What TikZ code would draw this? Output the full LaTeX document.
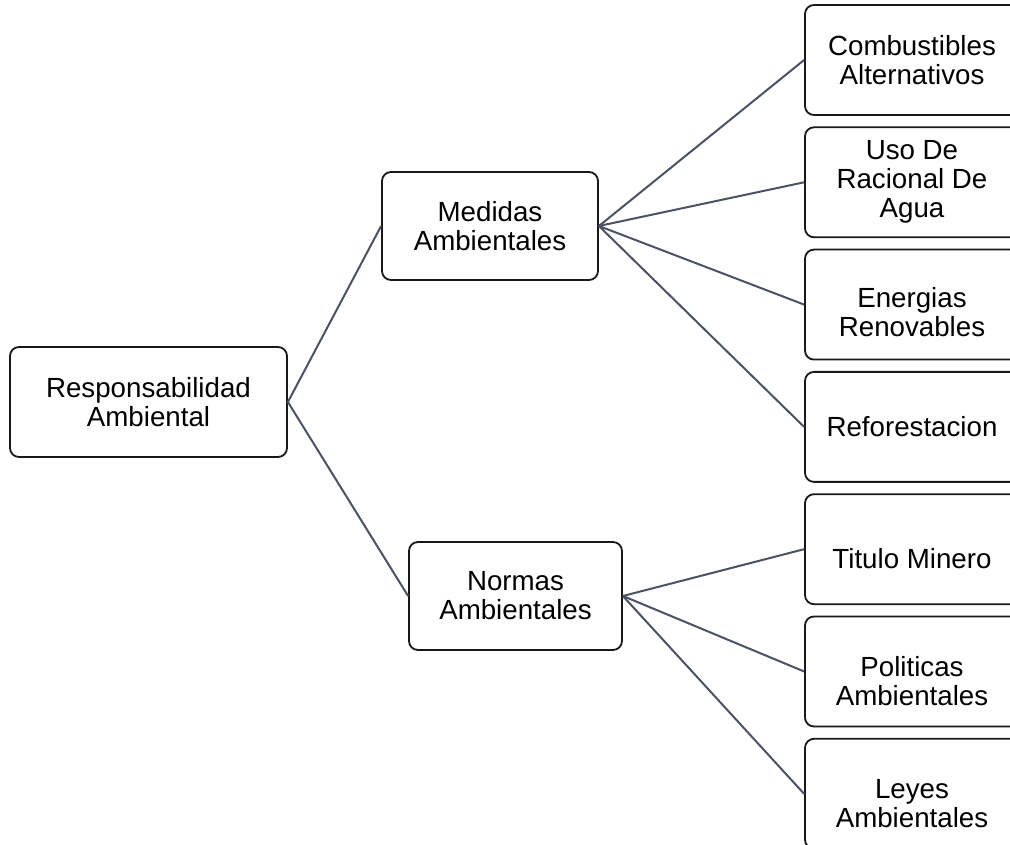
\documentclass[tikz,border=0pt]{standalone}
\usepackage{fontspec}
\setmainfont{Liberation Sans}
\usepackage{tikz}
\usetikzlibrary{shapes.geometric, arrows}
\definecolor{linegray}{HTML}{4A5263}
\tikzstyle{box} = [rectangle, rounded corners=9pt, minimum width=214pt, minimum height=110pt, text centered, align=center, draw=black!90, line width=1.8pt, font=\fontsize{27.7}{29}\selectfont]
\tikzstyle{line} = [draw=linegray, line width=2pt]
\newcommand{\lowtext}[2]{\raisebox{-#1}[\height][\depth]{\begin{tabular}{@{}c@{}}#2\end{tabular}}}

\begin{document}
\begin{tikzpicture}[x=1pt, y=1pt, node distance=122.3pt]

	\clip (0,0) rectangle (1010,844);
	\fill[white] (0,0) rectangle (1010,844);

	\node (resp) [box, minimum width=277pt] at (148.5,442) {Responsabilidad \\ Ambiental};
	\node (medidas) [box, minimum width=216pt, minimum height=108pt] at (490,618) {Medidas \\ Ambientales};
	\node (normas) [box, minimum width=213pt, minimum height=108pt] at (515.5,248) {Normas \\ Ambientales};

	\node (comb) [box] at (912,784) {Combustibles \\ Alternativos};
	\node (agua) [box, below of=comb] {Uso De \\ Racional De \\ Agua};
	\node (energia) [box, below of=agua] {\lowtext{12pt}{Energias \\ Renovables}};
	\node (refor) [box, below of=energia] {Reforestacion};
	\node (titulo) [box, below of=refor] {\lowtext{14pt}{Titulo Minero}};
	\node (politica) [box, below of=titulo] {\lowtext{14pt}{Politicas \\ Ambientales}};
	\node (leyes) [box, below of=politica] {\lowtext{13pt}{Leyes \\ Ambientales}};

	\draw [line] (resp.east) -- (medidas.west);
	\draw [line] (resp.east) -- (normas.west);
	\foreach \n in {comb, agua, energia, refor}
		\draw [line] (medidas.east) -- (\n.west);
	\foreach \n in {titulo, politica, leyes}
		\draw [line] (normas.east) -- (\n.west);

\end{tikzpicture}
\end{document}
